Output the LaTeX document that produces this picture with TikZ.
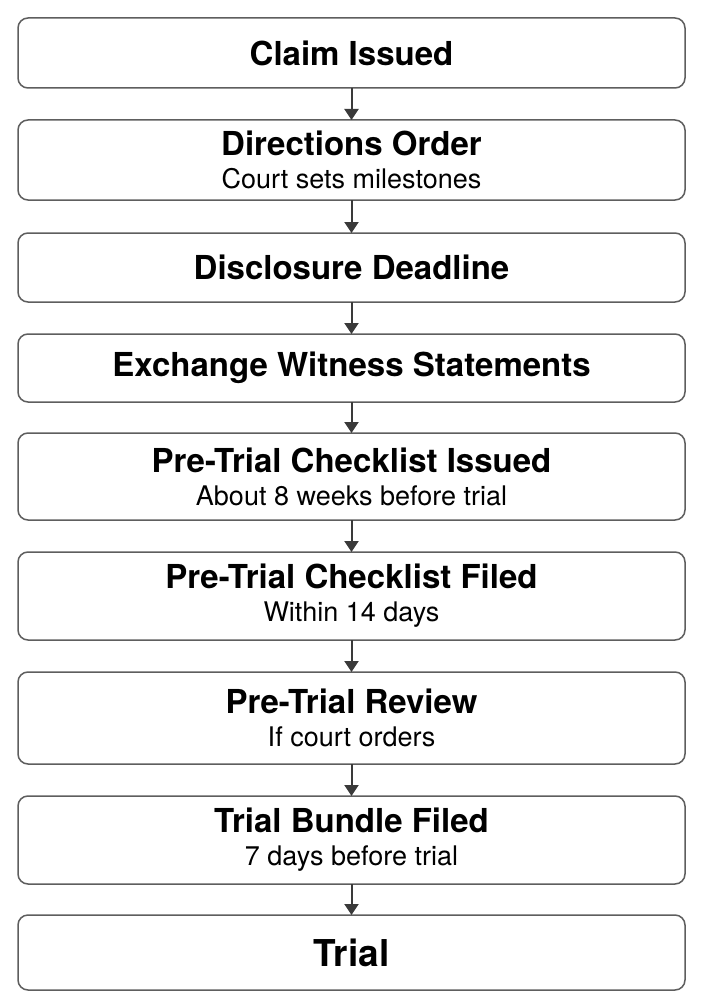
\documentclass[tikz,border=0pt]{standalone}
\usepackage{fontspec}
\setmainfont{TeX Gyre Heros}
\usepackage{tikz}
\usetikzlibrary{positioning,arrows.meta}
\definecolor{boxline}{HTML}{5E5E5E}
\definecolor{arrowgray}{HTML}{3A3A3A}
\newcommand{\stagetitle}[1]{{\fontsize{33}{33}\selectfont\bfseries #1}}

\begin{document}
\begin{tikzpicture}[x=1pt, y=1pt,
		stage/.style={draw=boxline, line width=1.5pt, rounded corners=10pt, fill=white, minimum width=667pt, align=center, inner sep=0pt, outer sep=0pt, font=\fontsize{27}{33}\selectfont},
		flow/.style={draw=arrowgray, line width=2pt, -{Triangle[length=11pt, width=14pt]}}]
		\useasboundingbox (0,0) rectangle (702,-1006);
		
		\node[stage, minimum height=70pt, anchor=north] (claim) at (351.5,-18) {\stagetitle{Claim Issued}};
		
		\node[stage, minimum height=80pt, below=32pt of claim] (dirs) {\stagetitle{Directions Order}\\Court sets milestones};
		
		\node[stage, minimum height=69pt, below=33pt of dirs] (disc) {\stagetitle{Disclosure Deadline}};
		
		\node[stage, minimum height=68pt, below=32pt of disc] (wit) {\stagetitle{Exchange Witness Statements}};
		
		\node[stage, minimum height=87pt, below=31pt of wit] (ptci) {\stagetitle{Pre-Trial Checklist Issued}\\About 8 weeks before trial};
		
		\node[stage, minimum height=88pt, below=32pt of ptci] (ptcf) {\stagetitle{Pre-Trial Checklist Filed}\\Within 14 days};
		
		\node[stage, minimum height=92pt, below=32pt of ptcf] (ptr) {\stagetitle{Pre-Trial Review}\\If court orders};
		
		\node[stage, minimum height=88pt, below=32pt of ptr] (bundle) {\stagetitle{Trial Bundle Filed}\\7 days before trial};
		
		\node[stage, minimum height=75pt, below=31pt of bundle] (trial) {{\fontsize{37}{37}\selectfont\bfseries Trial}};
		
		\draw[flow] (claim.south)--(dirs.north);
		\draw[flow] (dirs.south)--(disc.north);
		\draw[flow] (disc.south)--(wit.north);
		\draw[flow] (wit.south)--(ptci.north);
		\draw[flow] (ptci.south)--(ptcf.north);
		\draw[flow] (ptcf.south)--(ptr.north);
		\draw[flow] (ptr.south)--(bundle.north);
		\draw[flow] (bundle.south)--(trial.north);
	\end{tikzpicture}
\end{document}
